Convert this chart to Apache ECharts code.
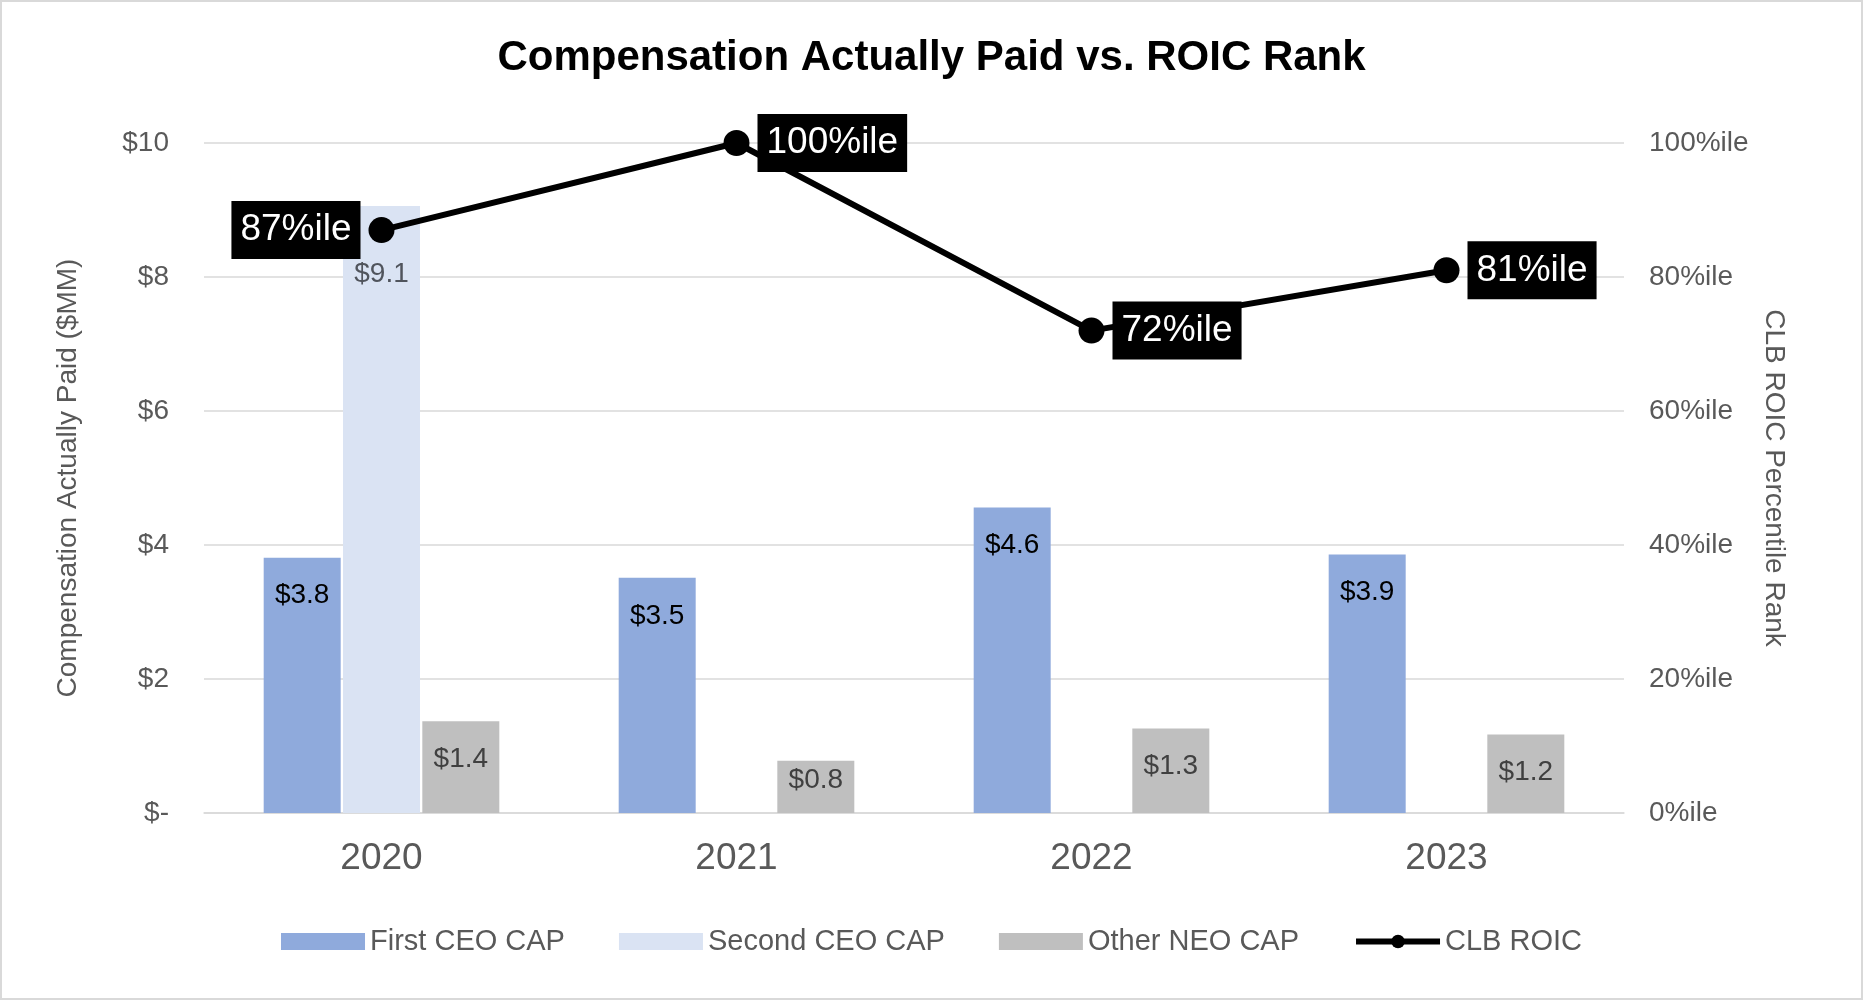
<!DOCTYPE html>
<html>
<head>
<meta charset="utf-8">
<script src="https://cdn.jsdelivr.net/npm/echarts@6/dist/echarts.min.js"></script>
<style>
html,body{margin:0;padding:0;background:#fff;}
#c{width:1863px;height:1000px;}
</style>
</head>
<body>
<div id="c"></div>
<script>
const categories = ['2020', '2021', '2022', '2023'];
const firstCEO = [3.81, 3.51, 4.56, 3.86];
const secondCEO = [9.06, null, null, null];
const otherNEO = [1.37, 0.78, 1.26, 1.17];
const roicRank = [87, 100, 72, 81];
const leftTicks = { min: 0, max: 10, interval: 2 };
const rightTicks = { min: 0, max: 100, interval: 20 };

const FONT = "'Liberation Sans', Arial, sans-serif";
const GRAY = '#595959';

const chart = echarts.init(document.getElementById('c'), null, { renderer: 'canvas' });

const fmt = v => '$' + (Math.round(v * 10) / 10).toFixed(1);

const barLabelBase = {
  show: true, position: 'insideTop', distance: 24,
  fontFamily: FONT, fontSize: 28,
  formatter: p => fmt(p.value)
};

const otherData = otherNEO.map((v, i) => {
  const item = { value: v };
  if (v < 1) item.label = { distance: 6 };
  return item;
});
const secondData = secondCEO.map(v => v == null ? null : ({ value: v, label: { distance: 54 } }));

const lineData = roicRank.map((v, i) => ({
  value: v,
  label: { position: i === 0 ? 'left' : 'right' }
}));

chart.setOption({
  animation: false,
  backgroundColor: '#fff',
  textStyle: { fontFamily: FONT },
  title: {
    text: 'Compensation Actually Paid vs. ROIC Rank',
    left: 'center', top: 32,
    textStyle: { fontFamily: FONT, fontSize: 42, fontWeight: 'bold', color: '#000' }
  },
  grid: { left: 204, right: 239, top: 143, bottom: 187, containLabel: false },
  legend: {
    top: 922, left: 'center',
    itemWidth: 84, itemHeight: 17, itemGap: 54,
    textStyle: { fontFamily: FONT, fontSize: 29, color: GRAY },
    data: [
      { name: 'First CEO CAP', icon: 'rect' },
      { name: 'Second CEO CAP', icon: 'rect' },
      { name: 'Other NEO CAP', icon: 'rect' },
      { name: 'CLB ROIC', lineStyle: { width: 6, color: '#000' }, itemStyle: { color: '#000' } }
    ]
  },
  xAxis: {
    type: 'category', data: categories,
    axisLine: { lineStyle: { color: '#d9d9d9', width: 1.5 } },
    axisTick: { show: false },
    axisLabel: { fontFamily: FONT, fontSize: 37, color: GRAY, margin: 27 }
  },
  yAxis: [
    {
      type: 'value', min: leftTicks.min, max: leftTicks.max, interval: leftTicks.interval,
      name: 'Compensation Actually Paid ($MM)', nameLocation: 'middle', nameGap: 122,
      nameTextStyle: { fontFamily: FONT, fontSize: 28, color: GRAY },
      axisLine: { show: false }, axisTick: { show: false },
      splitLine: { lineStyle: { color: '#d9d9d9', width: 1.5 } },
      axisLabel: { fontFamily: FONT, fontSize: 28, color: GRAY, margin: 35,
        formatter: v => v === 0 ? '$-' : '$' + v }
    },
    {
      type: 'value', min: rightTicks.min, max: rightTicks.max, interval: rightTicks.interval,
      position: 'right',
      name: 'CLB ROIC Percentile Rank', nameLocation: 'middle', nameGap: 134, nameRotate: -90,
      nameTextStyle: { fontFamily: FONT, fontSize: 28, color: GRAY },
      axisLine: { show: false }, axisTick: { show: false }, splitLine: { show: false },
      axisLabel: { fontFamily: FONT, fontSize: 28, color: GRAY, margin: 25,
        formatter: v => v + '%ile' }
    }
  ],
  series: [
    {
      name: 'First CEO CAP', type: 'bar', data: firstCEO,
      barWidth: 77, barGap: '3%',
      itemStyle: { color: '#8faadc' },
      label: Object.assign({}, barLabelBase, { color: '#000' })
    },
    {
      name: 'Second CEO CAP', type: 'bar', data: secondData,
      barWidth: 77, barGap: '3%',
      itemStyle: { color: '#dae3f3' },
      label: Object.assign({}, barLabelBase, { color: '#50545c' })
    },
    {
      name: 'Other NEO CAP', type: 'bar', data: otherData,
      barWidth: 77, barGap: '3%',
      itemStyle: { color: '#bfbfbf' },
      label: Object.assign({}, barLabelBase, { color: '#404040' })
    },
    {
      name: 'CLB ROIC', type: 'line', yAxisIndex: 1, data: lineData,
      z: 10,
      symbol: 'circle', symbolSize: 26,
      lineStyle: { color: '#000', width: 6 },
      itemStyle: { color: '#000' },
      label: {
        show: true, distance: 8,
        fontFamily: FONT, fontSize: 37, color: '#fff',
        backgroundColor: '#000', padding: [8, 9, 6, 9], lineHeight: 44,
        formatter: p => p.value + '%ile'
      }
    }
  ],
  graphic: [
    { type: 'rect', silent: true, z: 100,
      shape: { x: 1, y: 1, width: 1861, height: 998 },
      style: { fill: null, stroke: '#d9d9d9', lineWidth: 2 } }
  ]
});
</script>
</body>
</html>
